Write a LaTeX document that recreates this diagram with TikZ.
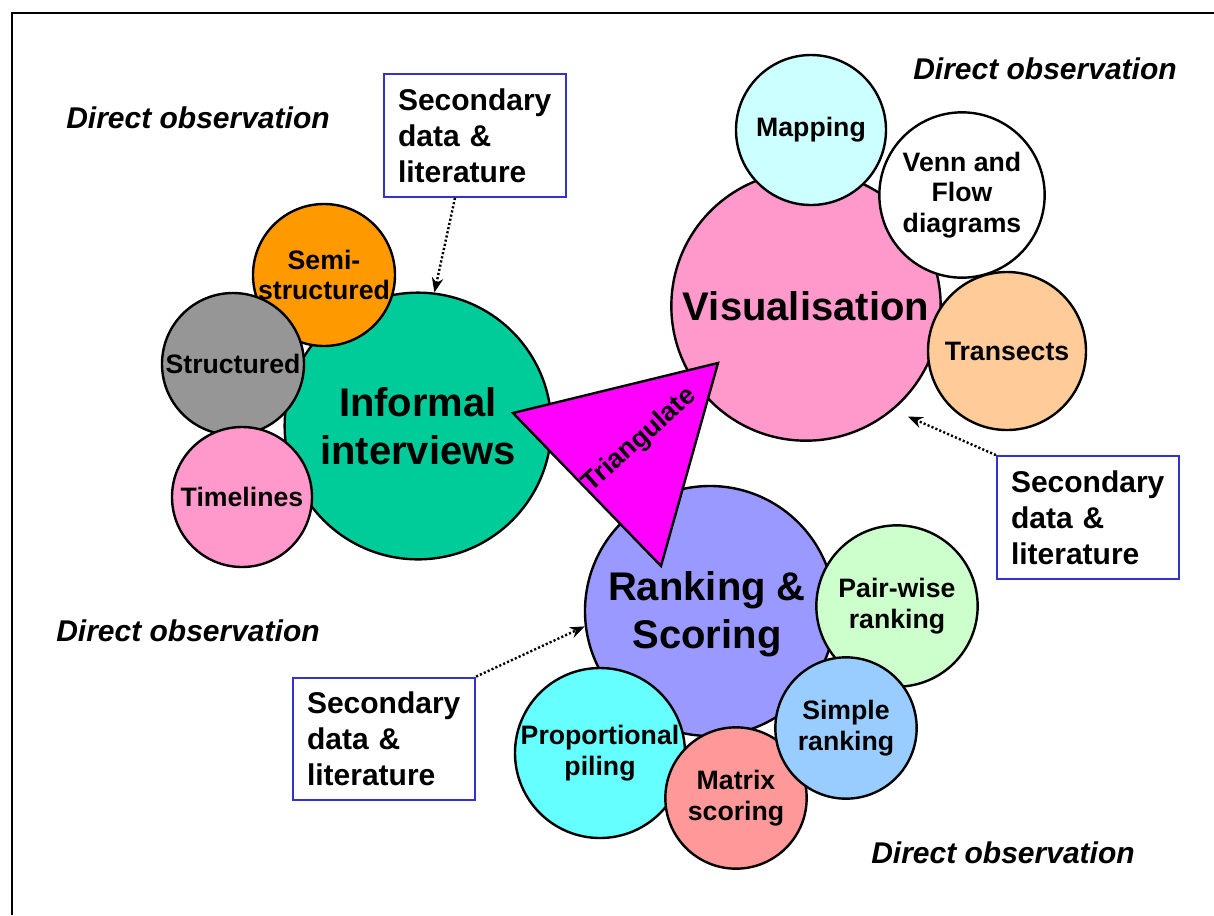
\documentclass[tikz,border=0pt]{standalone}
\usepackage{fontspec}
\setmainfont{Liberation Sans}
\usepackage{tikz}
\usetikzlibrary{calc,arrows.meta}
\definecolor{interview}{RGB}{0, 204, 153}
\definecolor{semicol}{RGB}{255, 153, 0}
\definecolor{structcol}{RGB}{150, 150, 150}
\definecolor{pinkcol}{RGB}{255, 153, 204}
\definecolor{mapcol}{RGB}{204, 255, 255}
\definecolor{transcol}{RGB}{255, 204, 153}
\definecolor{rankcol}{RGB}{153, 153, 255}
\definecolor{paircol}{RGB}{204, 255, 204}
\definecolor{simplecol}{RGB}{153, 204, 255}
\definecolor{matrixcol}{RGB}{255, 153, 153}
\definecolor{pilecol}{RGB}{102, 255, 255}
\definecolor{tricol}{RGB}{255, 0, 255}
\definecolor{boxblue}{RGB}{51, 51, 204}

\begin{document}
\begin{tikzpicture}[x=0.75pt, y=-0.75pt, >=Stealth,
  bubble/.style={circle, draw, line width=1.8pt, inner sep=0pt, align=center, font=\bfseries\fontsize{20}{23}\selectfont},
  bigbubble/.style={bubble, font=\bfseries\fontsize{30}{36}\selectfont},
  secbox/.style={draw=boxblue, line width=1.6pt, fill=white, minimum width=136.5pt, minimum height=92pt, inner xsep=10.5pt, text width=115.5pt, align=left, font=\bfseries\fontsize{22.5}{27}\selectfont},
  obs/.style={font=\bfseries\itshape\fontsize{22.5}{27}\selectfont},
  secarrow/.style={line width=1.8pt, dash pattern=on 1.6pt off 1.6pt, arrows={-Stealth[length=11pt, width=8.5pt]}}]
  \useasboundingbox (0,0) rectangle (1214,915);
  % Frame
  \draw[line width=2pt] (12,915) -- (12,13) -- (1214,13);
  % Informal interviews group
  \node[bigbubble, fill=interview, minimum size=200pt] (informal) at (418,426) {Informal\\interviews};
  \node[bubble, fill=semicol, minimum size=106.5pt] (semi) at (324,275) {Semi-\\structured};
  \node[bubble, fill=structcol, minimum size=106.5pt] (structured) at (233,364) {Structured};
  \node[bubble, fill=pinkcol, minimum size=105pt] (timelines) at (242,497) {Timelines};
  % Visualisation group
  \node[bigbubble, fill=pinkcol, minimum size=202pt] (visual) at (806,306) {Visualisation};
  \node[bubble, fill=mapcol, minimum size=112.5pt] (mapping) at (811,130) {Mapping};
  \node[bubble, fill=white, minimum size=124pt] (venn) at (962,195) {Venn and\\Flow\\diagrams};
  \node[bubble, fill=transcol, minimum size=118.5pt] (transects) at (1007,351) {Transects};
  % Ranking group
  \node[bigbubble, fill=rankcol, minimum size=187.5pt] (ranking) at (710,611) {};
  \node[font=\bfseries\fontsize{30}{36}\selectfont, align=center] (rankinglabel) at (707,614) {Ranking \&\\Scoring};
  \node[bubble, fill=paircol, minimum size=121pt] (pairwise) at (897,606) {Pair-wise\\ranking};
  \node[bubble, fill=pilecol, minimum size=127.5pt] (piling) at (600,753) {Proportional\\piling};
  \node[bubble, fill=matrixcol, minimum size=106pt] (matrix) at (736,798) {Matrix\\scoring};
  \node[bubble, fill=simplecol, minimum size=106pt] (simple) at (846,728) {Simple\\ranking};
  % Triangle
  \coordinate (triL) at (513,413);
  \coordinate (triT) at (718,363);
  \coordinate (triB) at (661,566);
  \draw[fill=tricol, line width=1.8pt] (triL) -- (triT) -- (triB) -- cycle;
  \node[rotate=42, font=\bfseries\fontsize{20}{23}\selectfont] (trilabel) at (640,440) {Triangulate};
  % Secondary data boxes
  \node[secbox] (secTop) at (475,135.5) {Secondary\\data \&\\literature};
  \node[secbox] (secRight) at (1088,517.5) {Secondary\\data \&\\literature};
  \node[secbox] (secLeft) at (384,739) {Secondary\\data \&\\literature};
  \draw[secarrow] ([xshift=-15pt]secTop.south) -- (informal.83);
  \draw[secarrow, shorten >=12pt] (secRight.north west) -- (visual.-50);
  \draw[secarrow] (secLeft.north east) -- (ranking.187);
  % Direct observation
  \node[obs] (obsTL) at (198,118) {Direct observation};
  \node[obs] (obsTR) at (1045,69) {Direct observation};
  \node[obs] (obsBL) at (188,631) {Direct observation};
  \node[obs] (obsBR) at (1003,853) {Direct observation};
\end{tikzpicture}
\end{document}
